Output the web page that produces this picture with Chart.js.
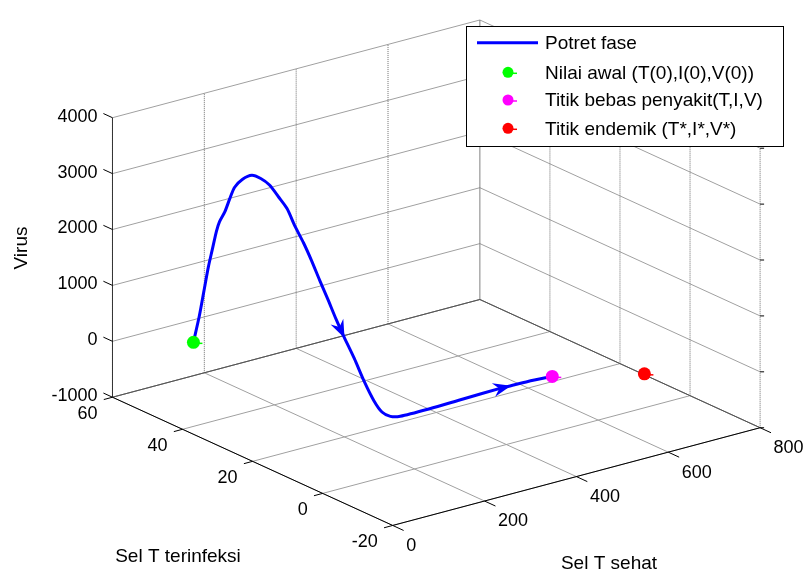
<!DOCTYPE html>
<html>
<head>
<meta charset="utf-8">
<script src="https://cdn.jsdelivr.net/npm/chart.js@4.4.1/dist/chart.umd.min.js"></script>
<style>
html, body { margin: 0; padding: 0; background: #fff; }
#wrap { width: 812px; height: 573px; }
</style>
</head>
<body>
<div id="wrap"><canvas id="c" width="812" height="573"></canvas></div>
<script>
// --- data: T = sel T sehat, I = sel T terinfeksi, V = virus ---
const trajT = [100, 109, 115, 121, 126, 131, 134, 138, 141, 144, 146, 151,
               152, 152, 152, 152, 152, 152, 152, 152, 152, 152, 152, 152, 152, 152, 152, 152,
               169, 233, 304, 390, 408, 447, 500];
const trajI = [50, 49.5, 49, 48.5, 48, 47.5, 47, 46, 45, 44, 42, 40,
               37.6, 35.1, 32.5, 30.1, 27.8, 25.4, 23.1, 20.8, 18.4, 16.1, 13.8, 10.9, 8.1, 5.3, 3, 0.6,
               0, 0, 0, 0, 0, 0, 0];
const trajV = [50, 515, 953, 1393, 1717, 2041, 2222, 2419, 2674, 2900, 3097, 3214,
               3222, 3177, 3038, 2900, 2647, 2423, 2170, 1887, 1605, 1322, 1069, 770, 444, 174, 38, 29,
               10, 5, 20, 35, 30, 25, 0];
const arrowAt = [22, 32];

const initPoint = [100, 50, 50];        // (T(0), I(0), V(0))
const freePoint = [500, 0, 0];          // titik bebas penyakit
const endemicPoint = [680, -2.7, -270]; // titik endemik

const xTicks = [0, 200, 400, 600, 800];
const yTicks = [-20, 0, 20, 40, 60];
const zTicks = [-1000, 0, 1000, 2000, 3000, 4000];
const xMin = 0, xMax = 800, yMin = -20, yMax = 60, zMin = -1000, zMax = 4000;

const legendLabels = ['Potret fase', 'Nilai awal (T(0),I(0),V(0))', 'Titik bebas penyakit(T,I,V)', 'Titik endemik (T*,I*,V*)'];

// --- view (MATLAB default az/el look), maps 3D -> screen units ---
const W = 812, H = 573;
const view = { ox: 392.5, oy: 531, ex: [0.4667, -0.125], ey: [-3.56, -1.64], ez: -0.0572 };
function proj(t, i, v) {
    const a = t - xMin, b = i - yMin, c = v - zMin;
    return {
        x: view.ox + a * view.ex[0] + b * view.ey[0],
        y: view.oy + a * view.ex[1] + b * view.ey[1] + c * view.ez
    };
}

const FONT = '18px "Liberation Sans", Arial, sans-serif';
const FONT_BIG = '19px "Liberation Sans", Arial, sans-serif';

function toPx(chart, t, i, v) {
    const p = proj(t, i, v);
    return [chart.scales.x.getPixelForValue(p.x), chart.scales.y.getPixelForValue(p.y)];
}

const box3d = {
    id: 'box3d',
    beforeDatasetsDraw(chart) {
        const ctx = chart.ctx;
        const P = (t, i, v) => toPx(chart, t, i, v);
        const seg = (a, b) => { ctx.beginPath(); ctx.moveTo(a[0], a[1]); ctx.lineTo(b[0], b[1]); ctx.stroke(); };
        ctx.save();
        ctx.lineWidth = 1;

        // grid on walls and floor
        ctx.strokeStyle = '#a0a0a0';
        zTicks.forEach(z => {
            seg(P(xMin, yMax, z), P(xMax, yMax, z));
            seg(P(xMax, yMax, z), P(xMax, yMin, z));
        });
        xTicks.forEach(x => seg(P(x, yMin, zMin), P(x, yMax, zMin)));
        yTicks.forEach(y => seg(P(xMin, y, zMin), P(xMax, y, zMin)));

        ctx.strokeStyle = '#6e6e6e';
        ctx.setLineDash([1, 1]);
        xTicks.forEach(x => seg(P(x, yMax, zMin), P(x, yMax, zMax)));
        yTicks.forEach(y => seg(P(xMax, y, zMin), P(xMax, y, zMax)));
        ctx.setLineDash([]);

        ctx.strokeStyle = '#505050';
        seg(P(xMin, yMax, zMin), P(xMax, yMax, zMin));
        seg(P(xMax, yMax, zMin), P(xMax, yMin, zMin));

        // axes
        ctx.strokeStyle = '#000';
        seg(P(xMin, yMin, zMin), P(xMax, yMin, zMin));
        seg(P(xMin, yMin, zMin), P(xMin, yMax, zMin));
        ctx.strokeStyle = '#333';
        seg(P(xMin, yMax, zMin), P(xMin, yMax, zMax));

        // tick marks
        const unit = v => { const l = Math.hypot(v[0], v[1]); return [v[0] / l, v[1] / l]; };
        const dX = unit([-view.ey[0], -view.ey[1]]);
        const dY = unit([-view.ex[0], -view.ex[1]]);
        const dZ = unit([view.ey[0], view.ey[1]]);
        ctx.strokeStyle = '#000';
        xTicks.forEach(x => { const a = P(x, yMin, zMin); seg(a, [a[0] + dX[0] * 12, a[1] + dX[1] * 12]); });
        yTicks.forEach(y => { const a = P(xMin, y, zMin); seg(a, [a[0] + dY[0] * 9, a[1] + dY[1] * 9]); });
        zTicks.forEach(z => {
            const a = P(xMin, yMax, z); seg(a, [a[0] + dZ[0] * 10, a[1] + dZ[1] * 10]);
            const b = P(xMax, yMin, z); seg(b, [b[0] + 4, b[1]]);
        });

        // tick labels
        ctx.fillStyle = '#000';
        ctx.font = FONT;
        ctx.textBaseline = 'middle';
        ctx.textAlign = 'right';
        zTicks.forEach(z => { const a = P(xMin, yMax, z); ctx.fillText(String(z), a[0] - 15, a[1] - 1); });
        yTicks.forEach(y => { const a = P(xMin, y, zMin); ctx.fillText(String(y), a[0] - 15, a[1] + 16.5); });
        ctx.textAlign = 'left';
        xTicks.forEach(x => { const a = P(x, yMin, zMin); ctx.fillText(String(x), a[0] + 13.5, a[1] + 20.5); });

        // axis titles
        ctx.font = FONT_BIG;
        ctx.textAlign = 'center';
        ctx.fillText('Sel T terinfeksi', 178, 557);
        ctx.fillText('Sel T sehat', 609, 564);
        ctx.save();
        ctx.translate(22, 248);
        ctx.rotate(-Math.PI / 2);
        ctx.fillText('Virus', 0, 0);
        ctx.restore();
        ctx.restore();
    },
    afterDatasetsDraw(chart) {
        const ctx = chart.ctx;
        ctx.save();
        // arrowheads on the trajectory
        const pts = chart.getDatasetMeta(3).data;
        ctx.fillStyle = '#0000ff';
        arrowAt.forEach(k => {
            const a = pts[k - 1], b = pts[k + 1], tip = pts[k];
            const ang = Math.atan2(b.y - a.y, b.x - a.x);
            const L = 17, hw = 7, notch = 11;
            ctx.save();
            ctx.translate(tip.x, tip.y);
            ctx.rotate(ang);
            ctx.beginPath();
            ctx.moveTo(1, 0);
            ctx.lineTo(-L, -hw);
            ctx.lineTo(-notch, 0);
            ctx.lineTo(-L, hw);
            ctx.closePath();
            ctx.fill();
            ctx.restore();
        });
        // small marker stubs
        [0, 1, 2].forEach(d => {
            const m = chart.getDatasetMeta(d).data[0];
            ctx.strokeStyle = chart.data.datasets[d].backgroundColor;
            ctx.lineWidth = 1.5;
            ctx.beginPath(); ctx.moveTo(m.x + 5, m.y + 1); ctx.lineTo(m.x + 9, m.y + 1); ctx.stroke();
        });
        ctx.restore();
    },
    afterDraw(chart) {
        const ctx = chart.ctx;
        ctx.save();
        ctx.fillStyle = '#fff';
        ctx.fillRect(466, 26, 317, 120);
        ctx.strokeStyle = '#000';
        ctx.lineWidth = 1;
        ctx.strokeRect(466.5, 26.5, 317, 120);
        const rows = [42.7, 72.3, 100, 128.3];
        ctx.strokeStyle = '#0000ff';
        ctx.lineWidth = 3;
        ctx.beginPath(); ctx.moveTo(477, rows[0]); ctx.lineTo(538, rows[0]); ctx.stroke();
        [1, 2, 3].forEach(r => {
            const col = chart.data.datasets[r - 1].backgroundColor;
            ctx.fillStyle = col;
            ctx.beginPath(); ctx.arc(508, rows[r], 5.5, 0, Math.PI * 2); ctx.fill();
            ctx.strokeStyle = col; ctx.lineWidth = 1.5;
            ctx.beginPath(); ctx.moveTo(512, rows[r] + 1); ctx.lineTo(517, rows[r] + 1); ctx.stroke();
        });
        ctx.fillStyle = '#000';
        ctx.font = FONT_BIG;
        ctx.textAlign = 'left';
        ctx.textBaseline = 'middle';
        legendLabels.forEach((s, r) => ctx.fillText(s, 545, rows[r] + 1));
        ctx.restore();
    }
};

const markerSet = (pt, color) => ({
    data: [proj(pt[0], pt[1], pt[2])],
    backgroundColor: color,
    borderColor: color,
    pointRadius: 6.5,
    borderWidth: 0,
    showLine: false,
    order: 0
});

new Chart(document.getElementById('c'), {
    type: 'scatter',
    data: {
        datasets: [
            markerSet(initPoint, '#00ff00'),
            markerSet(freePoint, '#ff00ff'),
            markerSet(endemicPoint, '#ff0000'),
            {
                data: trajT.map((t, k) => proj(t, trajI[k], trajV[k])),
                showLine: true,
                borderColor: '#0000ff',
                borderWidth: 3,
                pointRadius: 0,
                tension: 0.25,
                order: 1
            }
        ]
    },
    options: {
        responsive: false,
        devicePixelRatio: 1,
        animation: false,
        layout: { padding: 0 },
        scales: {
            x: { type: 'linear', min: 0, max: W, display: false },
            y: { type: 'linear', min: 0, max: H, reverse: true, display: false }
        },
        plugins: { legend: { display: false }, tooltip: { enabled: false } }
    },
    plugins: [box3d]
});
</script>
</body>
</html>
